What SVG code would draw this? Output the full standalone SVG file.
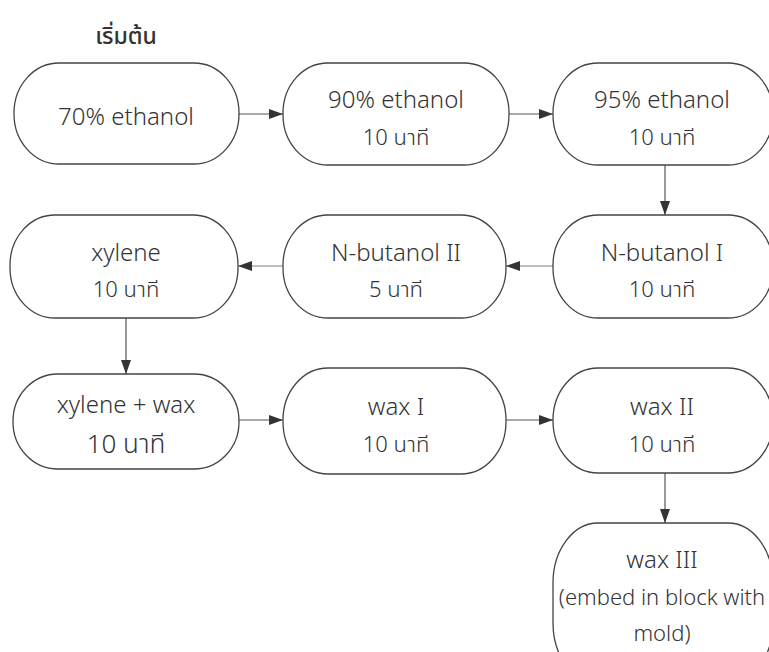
<svg xmlns="http://www.w3.org/2000/svg" width="769" height="652" viewBox="0 0 769 652">
<defs>
<style>
.box{fill:#fff;stroke:#444;stroke-width:1.3}
.t{font-family:"Noto Sans Thai","Noto Sans","DejaVu Sans",sans-serif;font-size:24px;fill:#333;text-anchor:middle;font-weight:300}
.s{font-family:"Noto Sans Thai","Noto Sans","DejaVu Sans",sans-serif;font-size:22px;fill:#333;text-anchor:middle;font-weight:300}
.c{stroke:#555;stroke-width:1.2;fill:none}
.c2{stroke:#aaa;stroke-width:1.5;fill:none}
</style>
<marker id="ah" markerWidth="14" markerHeight="10" refX="14" refY="5" orient="auto" markerUnits="userSpaceOnUse">
<path d="M0,0 L14,5 L0,10 Z" fill="#333"/>
</marker>
</defs>
<rect width="769" height="652" fill="#fff"/>
<text class="s" x="126" y="44" style="font-size:23px;font-weight:500">เริ่มต้น</text>
<g id="connectors">
<line class="c" x1="239" y1="114" x2="283" y2="114" marker-end="url(#ah)"/>
<line class="c" x1="509" y1="114" x2="553" y2="114" marker-end="url(#ah)"/>
<line class="c" x1="665" y1="165" x2="665" y2="215" marker-end="url(#ah)"/>
<line class="c2" x1="553" y1="266" x2="506" y2="266" marker-end="url(#ah)"/>
<line class="c2" x1="283" y1="266" x2="238" y2="266" marker-end="url(#ah)"/>
<line class="c" x1="126" y1="318" x2="126" y2="374" marker-end="url(#ah)"/>
<line class="c" x1="239" y1="420" x2="283" y2="420" marker-end="url(#ah)"/>
<line class="c" x1="506" y1="420" x2="553" y2="420" marker-end="url(#ah)"/>
<line class="c" x1="665" y1="473" x2="665" y2="523" marker-end="url(#ah)"/>
</g>
<g id="n1"><rect class="box" x="14" y="63" width="225" height="101" rx="45" ry="50"/><text class="t" x="126" y="125">70% ethanol</text></g>
<g id="n2"><rect class="box" x="283" y="63" width="226" height="102" rx="45" ry="50"/><text class="t" x="396" y="108">90% ethanol</text><text class="s" x="396" y="145">10 นาที</text></g>
<g id="n3"><rect class="box" x="553" y="63" width="220" height="102" rx="45" ry="50"/><text class="t" x="662" y="108">95% ethanol</text><text class="s" x="662" y="145">10 นาที</text></g>
<g id="n4"><rect class="box" x="553" y="215" width="220" height="103" rx="45" ry="50"/><text class="t" x="662" y="261">N-butanol I</text><text class="s" x="662" y="297">10 นาที</text></g>
<g id="n5"><rect class="box" x="283" y="215" width="223" height="103" rx="45" ry="50"/><text class="t" x="396" y="261">N-butanol II</text><text class="s" x="396" y="297">5 นาที</text></g>
<g id="n6"><rect class="box" x="10" y="215" width="228" height="103" rx="45" ry="50"/><text class="t" x="126" y="261">xylene</text><text class="s" x="126" y="297">10 นาที</text></g>
<g id="n7"><rect class="box" x="13" y="374" width="226" height="95" rx="45" ry="47"/><text class="t" x="126" y="413">xylene + wax</text><text class="s" x="126" y="453" style="font-size:26px">10 นาที</text></g>
<g id="n8"><rect class="box" x="283" y="368" width="223" height="106" rx="45" ry="52"/><text class="t" x="396" y="415">wax I</text><text class="s" x="396" y="452">10 นาที</text></g>
<g id="n9"><rect class="box" x="553" y="368" width="220" height="105" rx="45" ry="52"/><text class="t" x="662" y="415">wax II</text><text class="s" x="662" y="452">10 นาที</text></g>
<g id="n10"><rect class="box" x="553" y="523" width="220" height="160" rx="45" ry="60"/><text class="t" x="662" y="568">wax III</text><text class="t" x="662" y="605" style="font-size:22px">(embed in block with</text><text class="t" x="662" y="641" style="font-size:22px">mold)</text></g>
</svg>
